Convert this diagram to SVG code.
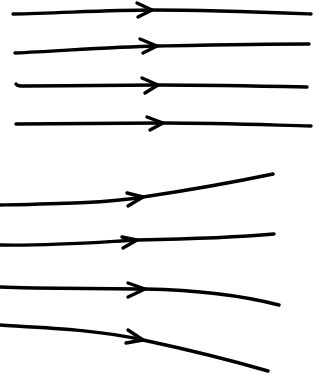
<svg xmlns="http://www.w3.org/2000/svg" width="325" height="376" viewBox="0 0 325 376">
<style>
.l{fill:none;stroke:#000;stroke-width:3.4;stroke-linecap:round;stroke-linejoin:round}
</style>
<rect width="325" height="376" fill="#fff"/>
<g id="connectors">
<g id="line1"><path class="l" d="M13,14 C60,13 110,10 152,10 C210,10 260,12 311,14"/><path class="l" d="M137,3 L152,10 L138,17"/></g>
<g id="line2"><path class="l" d="M15,53 C60,51 110,47 157,46 C210,45 260,44 309,44"/><path class="l" d="M140,39 L157,46 L143,53"/></g>
<g id="line3"><path class="l" d="M16,84 C17,86 20,86 25,86 C70,86 120,85 158,85 C210,85 260,86 307,87"/><path class="l" d="M142,78 L158,85 L145,93"/></g>
<g id="line4"><path class="l" d="M16,124 C60,124 120,123 163,123 C220,123 270,125 311,126"/><path class="l" d="M147,117 L163,123 L150,130"/></g>
<g id="line5"><path class="l" d="M0,205 C50,204 110,203 143,197 C190,190 230,183 273,174"/><path class="l" d="M127,193 L143,197 L128,206"/></g>
<g id="line6"><path class="l" d="M0,245 C50,246 100,242 137,240 C190,239 230,238 274,234"/><path class="l" d="M122,237 L137,240 L123,248"/></g>
<g id="line7"><path class="l" d="M0,287 C40,289 100,288 145,289 C200,290 240,295 279,305"/><path class="l" d="M128,283 L145,289 L128,297"/></g>
<g id="line8"><path class="l" d="M0,325 C50,328 100,330 143,340 C190,350 230,360 268,371"/><path class="l" d="M128,330 L143,340 L126,343"/></g>
</g>
</svg>
